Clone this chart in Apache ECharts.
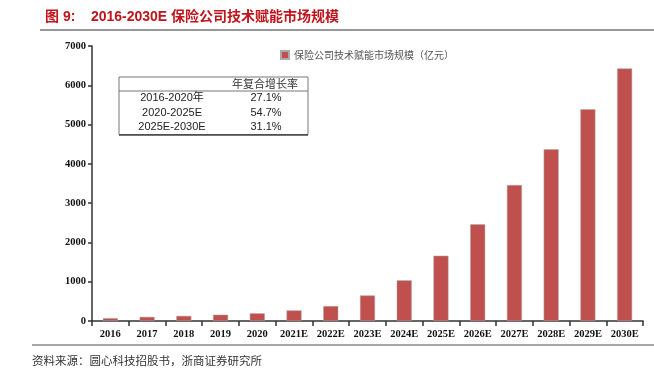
<!DOCTYPE html>
<html>
<head>
<meta charset="utf-8">
<script src="https://cdn.jsdelivr.net/npm/echarts@6/dist/echarts.min.js"></script>
<style>
  html, body { margin: 0; padding: 0; background: #fff; }
  #chart { width: 654px; height: 377px; }
</style>
</head>
<body>
<div id="chart"></div>
<script>
// 数据
const years = ['2016', '2017', '2018', '2019', '2020', '2021E', '2022E', '2023E',
  '2024E', '2025E', '2026E', '2027E', '2028E', '2029E', '2030E']
const marketSize = [72, 105, 130, 160, 195, 270, 380, 650, 1035, 1662, 2460, 3460, 4370, 5390, 6430]
const seriesName = '保险公司技术赋能市场规模（亿元）'
const cagrPeriods = ['2016-2020年', '2020-2025E', '2025E-2030E']
const cagrValues = ['27.1%', '54.7%', '31.1%']

const chart = echarts.init(document.getElementById('chart'))

// 表格（年复合增长率）
const tbl = { x: 119, y: 77, w: 189, headH: 14, rowH: 14.5 }
const tableGraphics = [
  { type: 'rect', shape: { x: tbl.x, y: tbl.y, width: tbl.w, height: tbl.headH + tbl.rowH * 3 },
    style: { fill: '#fff', stroke: '#777', lineWidth: 1 } },
  { type: 'line', shape: { x1: tbl.x, y1: tbl.y + tbl.headH, x2: tbl.x + tbl.w, y2: tbl.y + tbl.headH },
    style: { stroke: '#777', lineWidth: 1 } },
  { type: 'line', shape: { x1: tbl.x, y1: tbl.y + tbl.headH + tbl.rowH * 3 + 0.5, x2: tbl.x + tbl.w, y2: tbl.y + tbl.headH + tbl.rowH * 3 + 0.5 },
    style: { stroke: '#444', lineWidth: 1.5 } },
  { type: 'text', x: 265, y: tbl.y + tbl.headH / 2,
    style: { text: '年复合增长率', font: '11px "Noto Sans CJK SC"', fill: '#333', align: 'center', verticalAlign: 'middle' } }
]
cagrPeriods.forEach((p, i) => {
  const cy = tbl.y + tbl.headH + tbl.rowH * (i + 0.5)
  tableGraphics.push({ type: 'text', x: 172, y: cy,
    style: { text: p, font: '11px "Liberation Sans", "Noto Sans CJK SC"', fill: '#222', align: 'center', verticalAlign: 'middle' } })
  tableGraphics.push({ type: 'text', x: 266, y: cy,
    style: { text: cagrValues[i], font: '11px "Liberation Sans"', fill: '#222', align: 'center', verticalAlign: 'middle' } })
})

const option = {
  animation: false,
  title: {
    text: '图 9:    2016-2030E 保险公司技术赋能市场规模',
    left: 40,
    top: 5,
    textStyle: { color: '#c0141c', fontSize: 14, fontWeight: 'bold', fontFamily: '"Liberation Sans", "Noto Sans CJK SC"' }
  },
  legend: {
    data: [{ name: seriesName, icon: 'rect' }],
    left: 275,
    top: 45,
    itemWidth: 8,
    itemHeight: 8,
    itemGap: 4,
    textStyle: { color: '#555', fontSize: 10, fontFamily: '"Noto Sans CJK SC"' }
  },
  grid: { left: 92, right: 11, top: 46, bottom: 56 },
  xAxis: {
    type: 'category',
    data: years,
    axisLine: { lineStyle: { color: '#333', width: 1.5 } },
    axisTick: { show: true, inside: false, length: 5, lineStyle: { color: '#333', width: 1.5 } },
    axisLabel: { color: '#111', fontSize: 10.5, fontWeight: 'bold', fontFamily: '"Liberation Serif"', margin: 8, interval: 0 }
  },
  yAxis: {
    type: 'value',
    min: 0,
    max: 7000,
    interval: 1000,
    splitLine: { show: false },
    axisLine: { show: true, lineStyle: { color: '#333', width: 1.5 } },
    axisTick: { show: true, length: 4, lineStyle: { color: '#333', width: 1.5 } },
    axisLabel: { color: '#111', fontSize: 10.5, fontWeight: 'bold', fontFamily: '"Liberation Serif"', margin: 6,
      formatter: v => String(v) }
  },
  series: [{
    name: seriesName,
    type: 'bar',
    data: marketSize,
    barWidth: 15,
    itemStyle: { color: '#c0504d', borderColor: '#a9a9a9', borderWidth: 0.5 }
  }],
  graphic: [
    { type: 'line', shape: { x1: 40, y1: 30, x2: 654, y2: 30 }, style: { stroke: '#999', lineWidth: 2 } },
    { type: 'line', shape: { x1: 32, y1: 345, x2: 654, y2: 345 }, style: { stroke: '#888', lineWidth: 1.5 } },
    { type: 'text', x: 32, y: 361,
      style: { text: '资料来源：圆心科技招股书，浙商证券研究所', font: '11.5px "Noto Sans CJK SC"', fill: '#333', verticalAlign: 'middle' } }
  ].concat(tableGraphics)
}

chart.setOption(option)
</script>
</body>
</html>
